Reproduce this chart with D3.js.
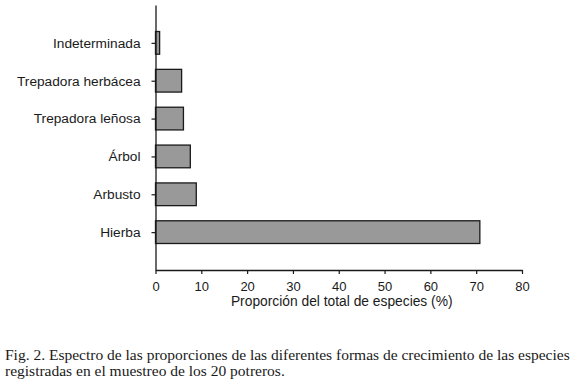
<!DOCTYPE html>
<html>
<head>
<meta charset="utf-8">
<script src="https://cdn.jsdelivr.net/npm/d3@7"></script>
<style>
  body { margin: 0; background: #fff; }
  svg { display: block; }
</style>
</head>
<body>
<div id="chart"></div>
<script>
const width = 572,
height = 382;

// data
const categories = ["Indeterminada", "Trepadora herbácea", "Trepadora leñosa", "Árbol", "Arbusto", "Hierba"]
const values = [0.9, 5.7, 6.1, 7.6, 8.9, 70.8]
const xTicks = [0, 10, 20, 30, 40, 50, 60, 70, 80]
const xTitle = "Proporción del total de especies (%)"
const caption = ["Fig. 2. Espectro de las proporciones de las diferentes formas de crecimiento de las especies",
                 "registradas en el muestreo de los 20 potreros."]

const plot = {left: 155.5, right: 522, top: 5, bottom: 270}

const svg = d3.select("#chart")
            .append("svg")
            .attr("width", width)
            .attr("height", height)

const x = d3.scaleLinear()
            .domain([0, 80])
            .range([plot.left, plot.right])

const y = d3.scalePoint()
            .domain(categories)
            .range([plot.top, plot.bottom])
            .padding(1)

const barH = y.step() * 0.6

// bars
svg.selectAll("rect.bar")
  .data(categories)
  .join("rect")
  .attr("class", "bar")
  .attr("x", x(0))
  .attr("y", d => y(d) - barH / 2)
  .attr("width", (d, i) => x(values[i]) - x(0))
  .attr("height", barH)
  .attr("fill", "#999999")
  .attr("stroke", "#1a1a1a")
  .attr("stroke-width", 1.3)

// x axis
const xAxis = svg.append("g")
    .attr("transform", `translate(0,${plot.bottom})`)
    .call(d3.axisBottom(x).tickValues(xTicks).tickSize(4).tickSizeOuter(0))
xAxis.select(".domain").attr("stroke", "#1a1a1a").attr("stroke-width", 1.3)
xAxis.selectAll(".tick line").attr("stroke", "#1a1a1a").attr("stroke-width", 1.2)
xAxis.selectAll(".tick text")
    .attr("y", 12)
    .attr("dy", "0.71em")
    .style("font-family", "'Liberation Sans', Arial, sans-serif")
    .style("font-size", "13px")
    .attr("fill", "#1a1a1a")

// y axis
const yAxis = svg.append("g")
    .attr("transform", `translate(${plot.left},0)`)
    .call(d3.axisLeft(y).tickSize(4).tickSizeOuter(0))
yAxis.select(".domain").attr("stroke", "#1a1a1a").attr("stroke-width", 1.3)
yAxis.selectAll(".tick line").attr("stroke", "#1a1a1a").attr("stroke-width", 1.2)
yAxis.selectAll(".tick text")
    .attr("x", -15)
    .style("font-family", "'Liberation Sans', Arial, sans-serif")
    .style("font-size", "13.7px")
    .attr("fill", "#1a1a1a")

// axis title
svg.append("text")
    .attr("x", (plot.left + plot.right) / 2 + 3)
    .attr("y", 306)
    .attr("text-anchor", "middle")
    .style("font-family", "'Liberation Sans', Arial, sans-serif")
    .style("font-size", "13.8px")
    .attr("fill", "#1a1a1a")
    .text(xTitle)

// caption
svg.selectAll("text.caption")
    .data(caption)
    .join("text")
    .attr("class", "caption")
    .attr("x", 5)
    .attr("y", (d, i) => 360 + i * 16)
    .style("font-family", "'Liberation Serif', 'Times New Roman', serif")
    .style("font-size", "15.5px")
    .attr("fill", "#1a1a1a")
    .text(d => d)
</script>
</body>
</html>
